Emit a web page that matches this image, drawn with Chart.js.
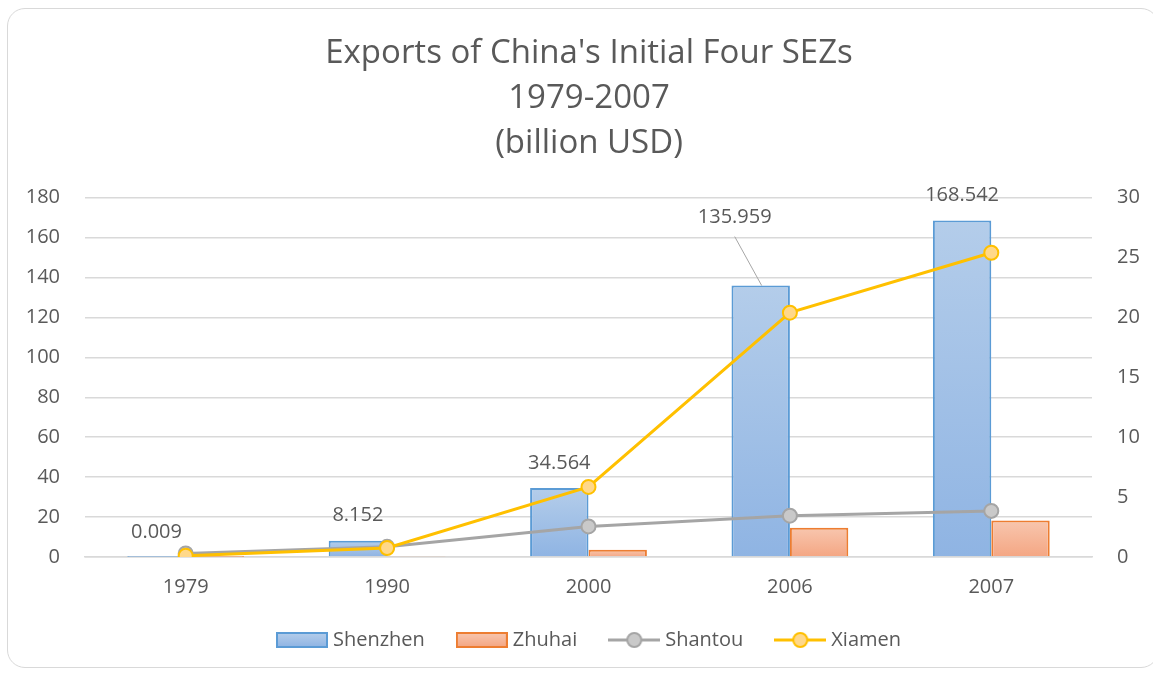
<!DOCTYPE html>
<html>
<head>
<meta charset="utf-8">
<script src="https://cdn.jsdelivr.net/npm/chart.js@4"></script>
<style>
  body { margin: 0; background: #fff; }
  #frame { position: absolute; left: 7px; top: 8px; width: 1150px; height: 658px; border: 1px solid #d9d9d9; border-radius: 18px; }
  #wrap { position: absolute; left: 0; top: 0; width: 1153px; height: 675px; }
</style>
</head>
<body>
<div id="frame"></div>
<div id="wrap"><canvas id="chart-main"></canvas></div>
<script>
const years = ['1979', '1990', '2000', '2006', '2007']
const shenzhen = [0.009, 8.152, 34.564, 135.959, 168.542]
const zhuhai = [0.01, 0.5, 3.6, 14.6, 18.3]
const shantou = [0.3, 0.85, 2.55, 3.45, 3.85]
const xiamen = [0.1, 0.75, 5.85, 20.4, 25.4]
const leftTicks = [0, 20, 40, 60, 80, 100, 120, 140, 160, 180]
const rightTicks = [0, 5, 10, 15, 20, 25, 30]

const grey = '#595959'
const fontName = '"Open Sans", sans-serif'

function barFill(light, dark) {
	return ctx => {
		const chart = ctx.chart
		const area = chart.chartArea
		if (!area || ctx.type !== 'data') return light
		const top = chart.scales.y.getPixelForValue(ctx.raw)
		if (area.bottom - top < 2) return dark
		const g = chart.ctx.createLinearGradient(0, top, 0, area.bottom)
		g.addColorStop(0, light)
		g.addColorStop(1, dark)
		return g
	}
}

// small pictures for the legend
function legendBox(light, dark, border) {
	const c = document.createElement('canvas')
	c.width = 52; c.height = 16
	const x = c.getContext('2d')
	const g = x.createLinearGradient(0, 1, 0, 15)
	g.addColorStop(0, light); g.addColorStop(1, dark)
	x.fillStyle = g
	x.fillRect(1, 1, 50, 14)
	x.strokeStyle = border; x.lineWidth = 2
	x.strokeRect(1, 1, 50, 14)
	return c
}
function legendLine(line, fill) {
	const c = document.createElement('canvas')
	c.width = 52; c.height = 18
	const x = c.getContext('2d')
	x.strokeStyle = line; x.lineWidth = 3
	x.beginPath(); x.moveTo(0, 9); x.lineTo(52, 9); x.stroke()
	x.fillStyle = fill; x.lineWidth = 2
	x.beginPath(); x.arc(26, 9, 7, 0, Math.PI * 2); x.fill(); x.stroke()
	return c
}
const legendPics = [
	legendBox('#b4cdea', '#8fb4e3', '#5b9bd5'),
	legendBox('#f8c6ae', '#f4a683', '#ed7d31'),
	legendLine('#a5a5a5', '#c9c9c9'),
	legendLine('#ffc000', '#ffd88a')
]

const shenzhenLabels = {
	id: 'shenzhenLabels',
	afterDatasetsDraw(chart) {
		const ctx = chart.ctx
		const meta = chart.getDatasetMeta(0)
		ctx.save()
		ctx.font = '20px ' + fontName
		ctx.fillStyle = grey
		ctx.textAlign = 'center'
		ctx.textBaseline = 'middle'
		meta.data.forEach((bar, i) => {
			let lx = bar.x, ly = bar.y - 25
			if (i === 3) {
				lx = bar.x - 26; ly = bar.y - 68
				ctx.strokeStyle = '#a6a6a6'
				ctx.lineWidth = 1
				ctx.beginPath()
				ctx.moveTo(lx, ly + 19)
				ctx.lineTo(bar.x + 1, bar.y)
				ctx.stroke()
			}
			ctx.fillText(String(shenzhen[i]), lx, ly)
		})
		ctx.restore()
	}
}

// legend drawn by hand so bar boxes and line markers look like the original
const bottomLegend = {
	id: 'bottomLegend',
	afterDraw(chart) {
		const ctx = chart.ctx
		const area = chart.chartArea
		const y = 640
		ctx.save()
		ctx.font = '20px ' + fontName
		ctx.fillStyle = grey
		ctx.textBaseline = 'middle'
		ctx.textAlign = 'left'
		const items = chart.data.datasets.map((ds, i) => ({ text: ds.label, pic: legendPics[i], w: 52 + 5 + ctx.measureText(ds.label).width }))
		const gap = 31
		const total = items.reduce((s, it) => s + it.w, 0) + gap * (items.length - 1)
		let x = (area.left + area.right) / 2 - total / 2
		items.forEach(it => {
			ctx.drawImage(it.pic, x, y - it.pic.height / 2)
			ctx.fillText(it.text, x + 57, y)
			x += it.w + gap
		})
		ctx.restore()
	}
}

const mainChart = document.getElementById('chart-main')
let chartMain = new Chart(mainChart, {
	type: 'bar',
	data: {
		labels: years,
		datasets: [
			{
				label: 'Shenzhen',
				data: shenzhen,
				backgroundColor: barFill('#b4cdea', '#8fb4e3'),
				borderColor: '#5b9bd5',
				borderWidth: 2,
				yAxisID: 'y',
				order: 2
			},
			{
				label: 'Zhuhai',
				data: zhuhai,
				backgroundColor: barFill('#f8c6ae', '#f4a683'),
				borderColor: '#ed7d31',
				borderWidth: 2,
				yAxisID: 'y',
				order: 3
			},
			{
				type: 'line',
				label: 'Shantou',
				data: shantou,
				borderColor: '#a5a5a5',
				backgroundColor: '#c9c9c9',
				pointBorderColor: '#a5a5a5',
				pointBackgroundColor: '#c9c9c9',
				borderWidth: 3,
				pointRadius: 7,
				pointBorderWidth: 2,
				tension: 0,
				yAxisID: 'y2',
				order: 1
			},
			{
				type: 'line',
				label: 'Xiamen',
				data: xiamen,
				borderColor: '#ffc000',
				backgroundColor: '#ffd88a',
				pointBorderColor: '#ffc000',
				pointBackgroundColor: '#ffd88a',
				borderWidth: 3,
				pointRadius: 7,
				pointBorderWidth: 2,
				tension: 0,
				yAxisID: 'y2',
				order: 0
			}
		]
	},
	options: {
		responsive: true,
		maintainAspectRatio: false,
		animation: false,
		events: null,
		datasets: {
			bar: {
				barPercentage: 1,
				categoryPercentage: 0.58
			}
		},
		layout: {
			padding: { left: 25, right: 0, top: 20, bottom: 58 }
		},
		scales: {
			x: {
				grid: { display: false, drawTicks: false },
				border: { display: true, color: '#d9d9d9', width: 1.5 },
				ticks: { color: grey, font: { family: fontName, size: 20 }, padding: 18 }
			},
			y: {
				position: 'left',
				min: 0,
				max: 180,
				afterBuildTicks: axis => { axis.ticks = leftTicks.map(v => ({ value: v })) },
				afterFit: axis => { axis.width = 60 },
				grid: { color: '#d9d9d9', lineWidth: 1.5, drawTicks: false },
				border: { display: false },
				ticks: { color: grey, font: { family: fontName, size: 20 }, padding: 25 }
			},
			y2: {
				position: 'right',
				min: 0,
				max: 30,
				afterBuildTicks: axis => { axis.ticks = rightTicks.map(v => ({ value: v })) },
				afterFit: axis => { axis.width = 61 },
				grid: { drawOnChartArea: false, drawTicks: false },
				border: { display: false },
				ticks: { color: grey, font: { family: fontName, size: 20 }, padding: 25 }
			}
		},
		plugins: {
			title: {
				display: true,
				text: ['Exports of China\'s Initial Four SEZs', '1979-2007', '(billion USD)'],
				color: grey,
				font: { family: fontName, size: 33, weight: 'normal', lineHeight: 1.36 },
				padding: { top: 11, bottom: 32 }
			},
			legend: { display: false },
			tooltip: { enabled: false }
		}
	},
	plugins: [shenzhenLabels, bottomLegend]
})
</script>
</body>
</html>
